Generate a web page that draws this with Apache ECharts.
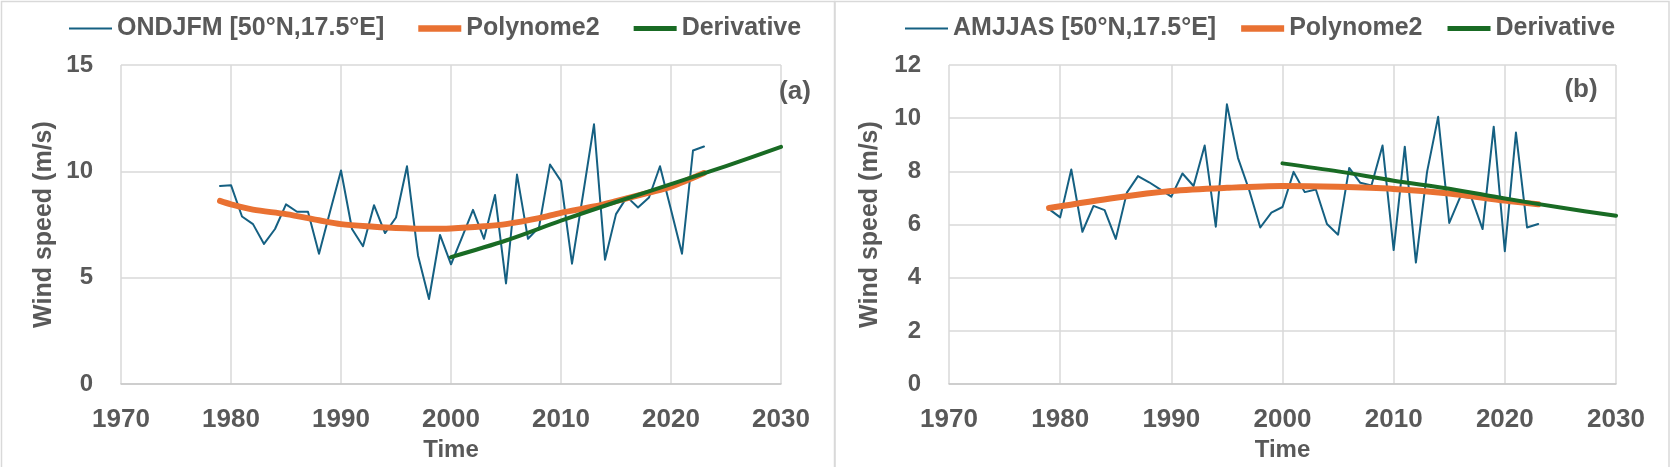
<!DOCTYPE html>
<html>
<head>
<meta charset="utf-8">
<script src="https://cdn.jsdelivr.net/npm/echarts@6/dist/echarts.min.js"></script>
<style>
html,body{margin:0;padding:0;background:#fff;}
#c{width:1671px;height:467px;}
</style>
</head>
<body>
<div id="c"></div>
<script>
// ---- Data ----
var years = [1979,1980,1981,1982,1983,1984,1985,1986,1987,1988,1989,1990,1991,1992,1993,1994,1995,1996,1997,1998,1999,
             2000,2001,2002,2003,2004,2005,2006,2007,2008,2009,2010,2011,2012,2013,2014,2015,2016,2017,2018,2019,2020,2021,2022,2023];
var ondjfm = [9.31,9.35,7.88,7.52,6.59,7.29,8.45,8.10,8.10,6.13,8.10,10.04,7.29,6.48,8.41,7.10,7.83,10.24,6.05,4.00,7.01,
              5.63,6.90,8.19,6.83,8.89,4.73,9.85,6.83,7.37,10.32,9.54,5.66,8.90,12.21,5.85,7.99,8.80,8.30,8.77,10.24,8.20,6.13,10.98,11.17];
var amjjas = [6.58,6.27,8.07,5.73,6.70,6.54,5.46,7.20,7.82,7.59,7.32,7.05,7.92,7.45,8.97,5.92,10.52,8.50,7.30,5.89,6.45,
              6.66,7.98,7.22,7.32,6.02,5.62,8.13,7.57,7.47,8.97,5.04,8.93,4.57,7.97,10.05,6.06,7.05,7.00,5.83,9.68,5.00,9.46,5.89,6.02];

var polyYearsA = [1979,1980,1982,1985,1988,1990,1993,1995,1998,2000,2003,2005,2008,2010,2013,2015,2018,2020,2023];
var polyA      = [8.61,8.45,8.20,7.99,7.70,7.52,7.40,7.34,7.30,7.32,7.42,7.52,7.80,8.05,8.35,8.60,9.00,9.28,9.92];
var derivYears = [2000,2005,2010,2015,2020,2025,2030];
var derivA     = [5.97,6.75,7.68,8.56,9.40,10.25,11.15];

var polyYearsB = [1979,1985,1990,1995,2000,2005,2010,2015,2020,2023];
var polyB      = [6.62,7.01,7.26,7.38,7.45,7.42,7.34,7.17,6.90,6.76];
var derivB     = [8.30,8.00,7.65,7.35,6.98,6.64,6.33];

var xTicks = {min:1970, max:2030, interval:10};
var yTicksA = {min:0, max:15, interval:5};
var yTicksB = {min:0, max:12, interval:2};

function pairs(xs, ys){ return xs.map(function(x,i){ return [x, ys[i]]; }); }

// ---- Styles ----
var TXT = '#595959';
var GRID = '#d9d9d9';
var C1 = '#156082', C2 = '#E97132', C3 = '#196B24';
var SANS = '"Liberation Sans", Arial, sans-serif';

function xAxis(idx){
  return {
    type:'value', gridIndex:idx, min:xTicks.min, max:xTicks.max, interval:xTicks.interval,
    name:'Time', nameLocation:'middle', nameGap:51,
    nameTextStyle:{color:TXT, fontFamily:SANS, fontWeight:'bold', fontSize:24},
    axisLine:{show:true, lineStyle:{color:'#c8c8c8', width:1.5}},
    axisTick:{show:false},
    splitLine:{show:true, lineStyle:{color:GRID, width:1.5}},
    axisLabel:{color:TXT, fontFamily:SANS, fontWeight:'bold', fontSize:26, margin:23,
               formatter:function(v){ return String(v); }}
  };
}
function yAxis(idx, t, gap){
  return {
    type:'value', gridIndex:idx, min:t.min, max:t.max, interval:t.interval,
    name:'Wind speed (m/s)', nameLocation:'middle', nameRotate:90, nameGap:gap,
    nameTextStyle:{color:TXT, fontFamily:SANS, fontWeight:'bold', fontSize:25},
    axisLine:{show:false}, axisTick:{show:false},
    splitLine:{show:true, lineStyle:{color:GRID, width:1.5}},
    axisLabel:{color:TXT, fontFamily:SANS, fontWeight:'bold', fontSize:24, margin:28}
  };
}
function lineSeries(name, data, idx, color, width, smooth, z){
  return {
    name:name, type:'line', xAxisIndex:idx, yAxisIndex:idx, data:data,
    showSymbol:false, symbol:'none', smooth:smooth, z:z,
    lineStyle:{color:color, width:width, cap:'round', join:'round'},
    itemStyle:{color:color}, emphasis:{disabled:true}, animation:false
  };
}
function legend(left, gap, firstName){
  return {
    left:left, top:16, padding:0, itemGap:gap, itemWidth:43, itemHeight:14,
    symbolKeepAspect:true,
    textStyle:{color:TXT, fontFamily:SANS, fontWeight:'bold', fontSize:25},
    data:[
      {name:firstName, icon:'path://M0,0H40V2H0Z', itemStyle:{color:C1}},
      {name:'Polynome2', icon:'path://M0,0H40V6H0Z', itemStyle:{color:C2}},
      {name:'Derivative', icon:'path://M0,0H40V4.5H0Z', itemStyle:{color:C3}}
    ]
  };
}

var chart = echarts.init(document.getElementById('c'));
chart.setOption({
  animation:false,
  backgroundColor:'#fff',
  grid:[
    {left:121, right:890, top:65, bottom:80},
    {left:949, right:55, top:65, bottom:80}
  ],
  xAxis:[xAxis(0), xAxis(1)],
  yAxis:[yAxis(0, yTicksA, 64), yAxis(1, yTicksB, 66)],
  legend:[legend(69, 34, 'ONDJFM [50°N,17.5°E]'), legend(905, 25, 'AMJJAS [50°N,17.5°E]')],
  series:[
    lineSeries('ONDJFM [50°N,17.5°E]', pairs(years, ondjfm), 0, C1, 2, false, 2),
    lineSeries('Polynome2', pairs(polyYearsA, polyA), 0, C2, 6, 0.3, 3),
    lineSeries('Derivative', pairs(derivYears, derivA), 0, C3, 4, 0.3, 4),
    lineSeries('AMJJAS [50°N,17.5°E]', pairs(years, amjjas), 1, C1, 2, false, 2),
    lineSeries('Polynome2', pairs(polyYearsB, polyB), 1, C2, 6, 0.3, 3),
    lineSeries('Derivative', pairs(derivYears, derivB), 1, C3, 4, 0.3, 4)
  ],
  graphic:[
    {type:'rect', shape:{x:1.5, y:1.5, width:833, height:480}, style:{fill:'none', stroke:'#d9d9d9', lineWidth:1.5}, silent:true},
    {type:'rect', shape:{x:835, y:1.5, width:834, height:480}, style:{fill:'none', stroke:'#d9d9d9', lineWidth:1.5}, silent:true},
    {type:'text', x:795, y:92, style:{text:'(a)', fill:TXT, font:'bold 26px ' + SANS, align:'center', verticalAlign:'middle'}, z:10},
    {type:'text', x:1581, y:90, style:{text:'(b)', fill:TXT, font:'bold 26px ' + SANS, align:'center', verticalAlign:'middle'}, z:10}
  ]
});
</script>
</body>
</html>
